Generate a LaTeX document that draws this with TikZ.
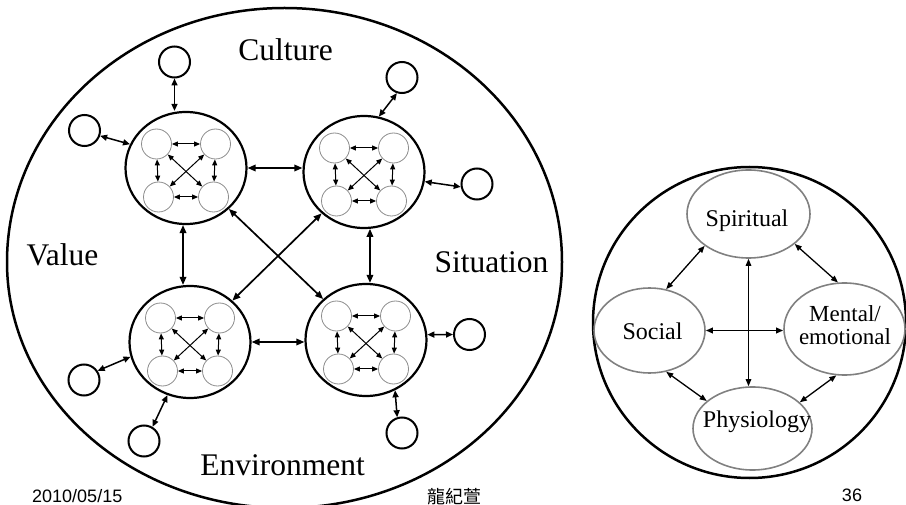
\documentclass[tikz,border=0pt]{standalone}
\usepackage{fontspec}
\setmainfont{Liberation Serif}
\newfontfamily\footfont{Liberation Sans}
\newfontfamily\cjkfont{Noto Sans CJK TC}
\usetikzlibrary{arrows.meta,shapes.geometric}
\definecolor{ring}{RGB}{140,140,140}
\definecolor{oval}{RGB}{128,128,128}
\tikzset{
 outline/.style={line width=2.5pt},
 subc/.style={draw, ellipse, line width=2.2pt, minimum width=121pt, minimum height=112pt, inner sep=0pt},
 innc/.style={draw=ring, circle, line width=0.8pt, minimum size=30pt, inner sep=0pt},
 satc/.style={draw, circle, line width=2pt, minimum size=31pt, inner sep=0pt},
 ovalnode/.style={draw=oval, ellipse, line width=1.6pt, inner sep=0pt},
 mainarr/.style={line width=1.7pt, {Triangle[length=8pt,width=6.5pt]}-{Triangle[length=8pt,width=6.5pt]}},
 satarr/.style={line width=1.5pt, {Triangle[length=7pt,width=6pt]}-{Triangle[length=7pt,width=6pt]}},
 inarr/.style={line width=1.0pt, {Triangle[length=6pt,width=5pt]}-{Triangle[length=6pt,width=5pt]}},
 rarr/.style={line width=1.3pt, {Triangle[length=7pt,width=5.5pt]}-{Triangle[length=7pt,width=5.5pt]}},
 biglabel/.style={font=\fontsize{31.5}{36}\selectfont, anchor=base, inner sep=0pt},
 midlabel/.style={font=\fontsize{24}{24}\selectfont, anchor=base, inner sep=0pt},
 footlabel/.style={font=\footfont\fontsize{18}{20}\selectfont, anchor=base, inner sep=0pt},
}
\newcommand{\mysub}[3]{%
 \node[subc] (#1) at (#2,#3) {};
 \node[innc] (#1a) at (#2-29.5,#3-24) {};
 \node[innc] (#1b) at (#2+29.5,#3-24) {};
 \node[innc] (#1c) at (#2-27.5,#3+29) {};
 \node[innc] (#1d) at (#2+27.5,#3+29) {};
 \draw[inarr] (#1a) -- (#1b);
 \draw[inarr] (#1c) -- (#1d);
 \draw[inarr] (#1a) -- (#1c);
 \draw[inarr] (#1b) -- (#1d);
 \draw[inarr] (#1a) -- (#1d);
 \draw[inarr] (#1b) -- (#1c);
}
\begin{document}
\begin{tikzpicture}[x=1pt,y=-1pt]
\useasboundingbox (0,0) rectangle (906,505);
% big outline
\draw[outline] (7,262) arc[start angle=180,end angle=0,x radius=277.5pt,y radius=254pt]
  arc[start angle=0,end angle=-180,x radius=277.5pt,y radius=246pt] -- cycle;
% subsystems
\mysub{A}{186}{168}
\mysub{B}{364}{172}
\mysub{C}{190}{342}
\mysub{D}{366}{340}
% main arrows
\draw[mainarr] (A.east) -- (A.east -| B.west);
\draw[mainarr] (C.east) -- (C.east -| D.west);
\draw[mainarr] (A.-93) -- (A.-93 |- C.north);
\draw[mainarr] (B.-84) -- (B.-84 |- D.north);
\draw[mainarr] (A) -- (D);
\draw[mainarr] (B) -- (C);
% satellites
\node[satc] (S1) at (174.5,62) {};
\node[satc] (S2) at (84.5,130.5) {};
\node[satc] (S3) at (402,77.5) {};
\node[satc] (S4) at (477,184) {};
\node[satc] (S5) at (84,380) {};
\node[satc] (S6) at (144,441) {};
\node[satc] (S7) at (469.5,334.5) {};
\node[satc] (S8) at (402,433) {};
\draw[satarr] (S1.south) -- (S1.south |- A.north);
\draw[satarr] (S2.-19) -- (A.157);
\draw[satarr] (S3.252) -- (B.75);
\draw[satarr] (B.-9) -- (S4.190);
\draw[satarr] (S5.34) -- (C.194);
\draw[satarr] (S6.59) -- (C.247);
\draw[satarr] (D.5) -- (S7.west);
\draw[satarr] (D.-60) -- (S8.107);
% big labels
\node[biglabel] (culture) at (285.5,61) {Culture};
\node[biglabel] (value) at (62.5,266) {Value};
\node[biglabel] (situation) at (491.5,273) {Situation};
\node[biglabel] (environment) at (282.5,475) {Environment};
% right diagram
\node[draw, ellipse, line width=2.5pt, minimum width=313pt, minimum height=311pt, inner sep=0pt] (R) at (749.5,322.5) {};
\node[ovalnode, minimum width=123pt, minimum height=88pt] (Sp) at (748.5,214) {};
\node[ovalnode, minimum width=111pt, minimum height=85pt] (So) at (649.5,330.5) {};
\node[ovalnode, minimum width=121pt, minimum height=92pt] (Me) at (844.5,329) {};
\node[ovalnode, minimum width=119pt, minimum height=83pt] (Ph) at (752.5,428.5) {};
\node[midlabel] (tsp) at (747,227) {Spiritual};
\node[midlabel] (tso) at (652.5,340) {Social};
\node[midlabel, font=\fontsize{23}{23.5}\selectfont, anchor=center, align=center] (tme) at (845,325) {Mental/\\emotional};
\node[midlabel] (tph) at (757,427) {Physiology};
\draw[rarr] (Sp.216) -- (So.68);
\draw[rarr] (Sp.-33) -- (Me.98);
\draw[rarr] (So.-68) -- (Ph.149);
\draw[rarr] (Me.-100) -- (Ph.29);
\draw[rarr] (Sp.south) -- (Sp.south |- Ph.north);
\draw[rarr, line width=1.8pt] (So.east) -- (So.east -| Me.west);
% footer
\node[footlabel, anchor=base west] (date) at (32,502) {2010/05/15};
\node[footlabel, font=\cjkfont\fontsize{18}{20}\selectfont] (author) at (454.5,503) {龍紀萱};
\node[footlabel] (page) at (852,501) {36};
\end{tikzpicture}
\end{document}
